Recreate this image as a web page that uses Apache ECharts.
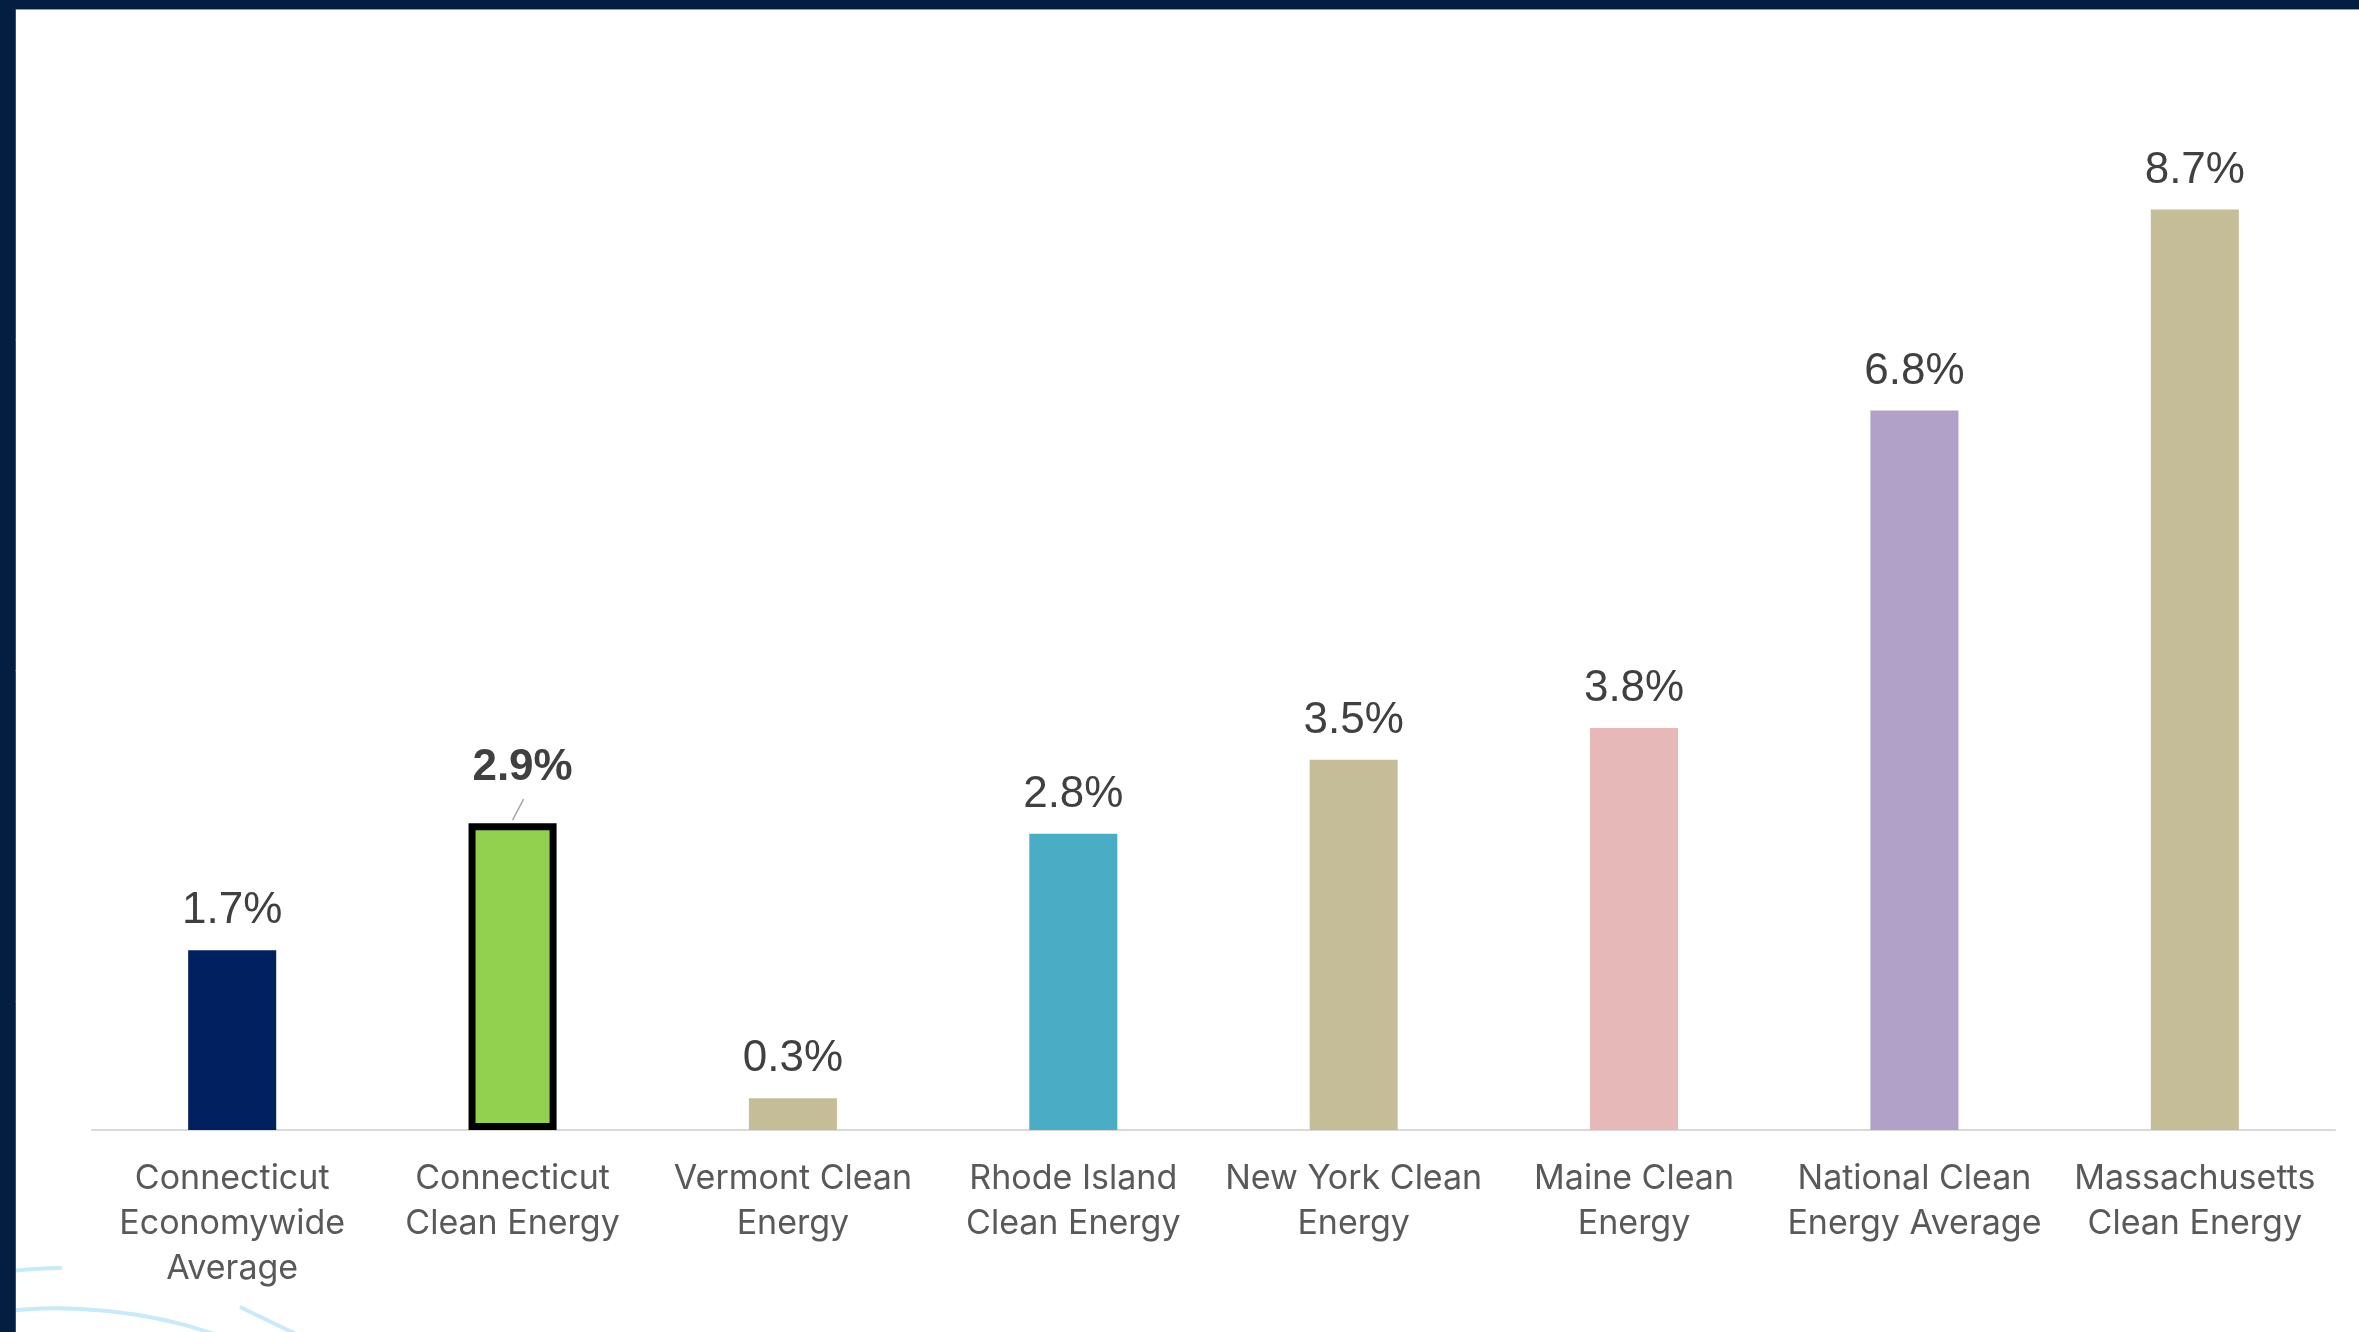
<!DOCTYPE html>
<html>
<head>
<meta charset="utf-8">
<script src="https://cdn.jsdelivr.net/npm/echarts@6/dist/echarts.min.js"></script>
<style>
html,body{margin:0;padding:0;background:#fff;}
#chart{width:2359px;height:1332px;}
</style>
</head>
<body>
<div id="chart"></div>
<script>
const categories = [
  'Connecticut\nEconomywide\nAverage',
  'Connecticut\nClean Energy',
  'Vermont Clean\nEnergy',
  'Rhode Island\nClean Energy',
  'New York Clean\nEnergy',
  'Maine Clean\nEnergy',
  'National Clean\nEnergy Average',
  'Massachusetts\nClean Energy'
];
const values = [1.7, 2.9, 0.3, 2.8, 3.5, 3.8, 6.8, 8.7];
const barColors = ['#002060', '#92D050', '#C4BD97', '#4BACC6', '#C4BD97', '#E6B9B8', '#B1A0C7', '#C4BD97'];
const highlightIndex = 1;

const chart = echarts.init(document.getElementById('chart'), null, {renderer: 'canvas'});

const data = values.map((v, i) => {
  const item = {value: v, itemStyle: {color: barColors[i]}};
  if (i === highlightIndex) {
    item.itemStyle.borderColor = '#000';
    item.itemStyle.borderWidth = 7;
    item.label = {fontWeight: 'bold'};
  }
  return item;
});

const baseGraphics = [
  {type: 'rect', left: 0, top: 0, shape: {width: 2359, height: 9}, style: {fill: '#041E42'}, z: 10},
  {type: 'rect', left: 0, top: 0, shape: {width: 15, height: 1332}, style: {fill: '#041E42'}, z: 10},
  {type: 'line', shape: {x1: 15, y1: 9.5, x2: 2359, y2: 9.5}, style: {stroke: '#8A9BB8', lineWidth: 1}, z: 10},
  {type: 'line', shape: {x1: 15.5, y1: 9, x2: 15.5, y2: 1332}, style: {stroke: '#3A4E70', lineWidth: 1}, z: 10},
  {type: 'bezierCurve', shape: {x1: 0, y1: 1272, x2: 62, y2: 1268, cpx1: 20, cpy1: 1270, cpx2: 40, cpy2: 1268}, style: {stroke: '#C9EAF8', lineWidth: 4, fill: null}, z: 1},
  {type: 'bezierCurve', shape: {x1: 0, y1: 1312, x2: 230, y2: 1340, cpx1: 60, cpy1: 1304, cpx2: 150, cpy2: 1308}, style: {stroke: '#C9EAF8', lineWidth: 4, fill: null}, z: 1},
  {type: 'line', shape: {x1: 240, y1: 1307, x2: 300, y2: 1336}, style: {stroke: '#C9EAF8', lineWidth: 4}, z: 1}
];

chart.setOption({
  backgroundColor: '#ffffff',
  animation: false,
  grid: {left: 92, right: 24, top: 72, bottom: 202, containLabel: false},
  xAxis: {
    type: 'category',
    data: categories,
    axisLine: {show: true, lineStyle: {color: '#D9D9D9', width: 2}},
    axisTick: {show: false},
    axisLabel: {
      interval: 0,
      color: '#595959',
      fontFamily: 'Inter',
      fontSize: 34,
      lineHeight: 45,
      margin: 26
    }
  },
  yAxis: {
    type: 'value',
    min: 0,
    max: 10,
    show: false,
    splitLine: {show: false}
  },
  series: [{
    type: 'bar',
    data: data,
    barWidth: '31.4%',
    label: {
      show: true,
      position: 'top',
      distance: 17,
      color: '#404040',
      fontFamily: 'Liberation Sans',
      fontSize: 44,
      formatter: p => p.value.toFixed(1) + '%'
    },
    labelLayout: function (params) {
      if (params.dataIndex === highlightIndex) {
        return {dx: 10, dy: -16};
      }
      return {};
    }
  }],
  graphic: baseGraphics
});

// leader line for the highlighted label, anchored via the chart's own scales
const barTopPx = chart.convertToPixel({seriesIndex: 0}, [highlightIndex, values[highlightIndex]]);
chart.setOption({
  graphic: baseGraphics.concat([{
    type: 'line',
    shape: {x1: barTopPx[0], y1: barTopPx[1] - 3, x2: barTopPx[0] + 11, y2: barTopPx[1] - 24},
    style: {stroke: '#A6A6A6', lineWidth: 1.5},
    z: 5
  }])
});
</script>
</body>
</html>
